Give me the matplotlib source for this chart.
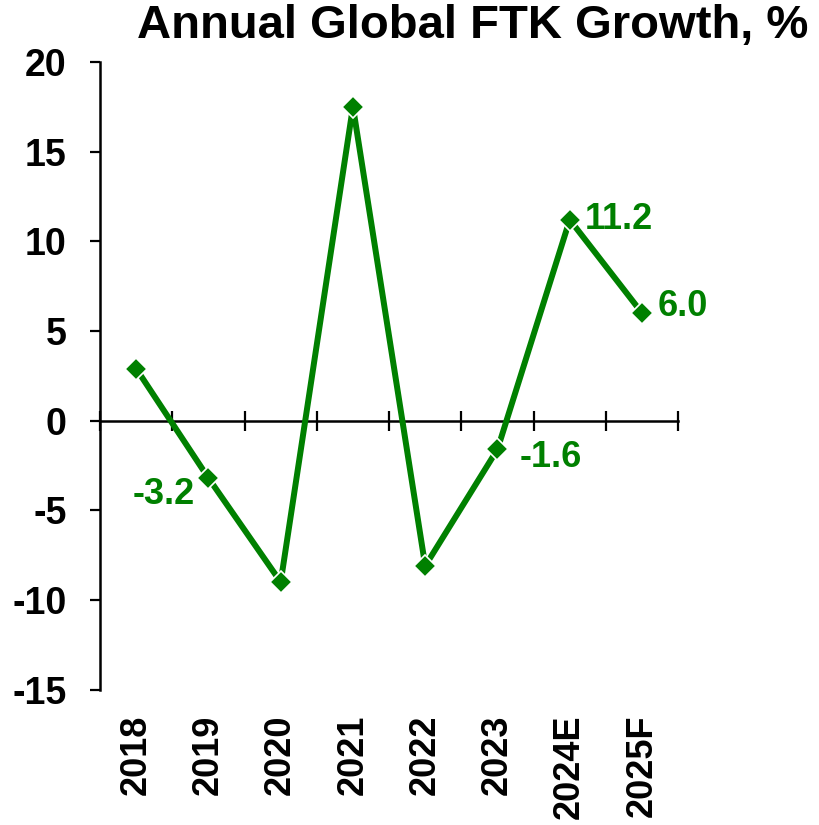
import numpy as np
import matplotlib
matplotlib.use('Agg')
import matplotlib.pyplot as plt
import matplotlib.transforms as mtransforms

plt.rcParams['font.family'] = ['Liberation Sans', 'DejaVu Sans']
plt.rcParams['font.weight'] = 'bold'
plt.rcParams['axes.unicode_minus'] = False

years = ['2018', '2019', '2020', '2021', '2022', '2023', '2024E', '2025F']
growth = [2.9, -3.2, -9.0, 17.5, -8.1, -1.6, 11.2, 6.0]
labelled = {1: '-3.2', 5: '-1.6', 6: '11.2', 7: '6.0'}
green = '#008000'

fig = plt.figure(figsize=(8.2, 8.25), dpi=100)
ax = fig.add_axes([0.122, 0.164, 0.705, 0.761])

x = np.arange(len(years))
ax.plot(x, growth, color=green, lw=4.3, marker='D', ms=11,
        mfc=green, mec='white', mew=1.2, zorder=3)

# data labels
offsets = {1: (-10, -12, 'right', 'center'), 5: (16, -6, 'left', 'center'),
           6: (11, 0, 'left', 'center'), 7: (11, 5, 'left', 'center')}
for i, txt in labelled.items():
    dx, dy, ha, va = offsets[i]
    ax.annotate(txt, (x[i], growth[i]), xytext=(dx, dy), textcoords='offset points',
                ha=ha, va=va, color=green, fontsize=26, fontweight='bold')

ax.set_xlim(-0.5, len(years) - 0.5)
ax.set_ylim(-15, 20)
ax.set_yticks(np.arange(-15, 21, 5))
ax.tick_params(axis='y', labelsize=27, length=7, width=1.6, pad=17, direction='out')

for s in ['top', 'right']:
    ax.spines[s].set_visible(False)
ax.spines['left'].set_linewidth(1.8)
ax.spines['bottom'].set_position(('data', 0))
ax.spines['bottom'].set_linewidth(1.8)

ax.set_xticks(x)
ax.set_xticklabels([])
ax.set_xticks(np.arange(len(years) + 1) - 0.5, minor=True)
ax.tick_params(axis='x', which='major', length=0)
ax.tick_params(axis='x', which='minor', length=14, width=1.6, direction='inout')

trans = mtransforms.blended_transform_factory(ax.transData, ax.transAxes)
for i, yr in enumerate(years):
    ax.text(x[i], -0.04, yr, rotation=90, ha='center', va='top', transform=trans,
            fontsize=26, fontweight='bold')

fig.text(0.576, 0.969, 'Annual Global FTK Growth, %', ha='center', va='center',
         fontsize=34, fontweight='bold')

fig.savefig('out.png', dpi=100)
